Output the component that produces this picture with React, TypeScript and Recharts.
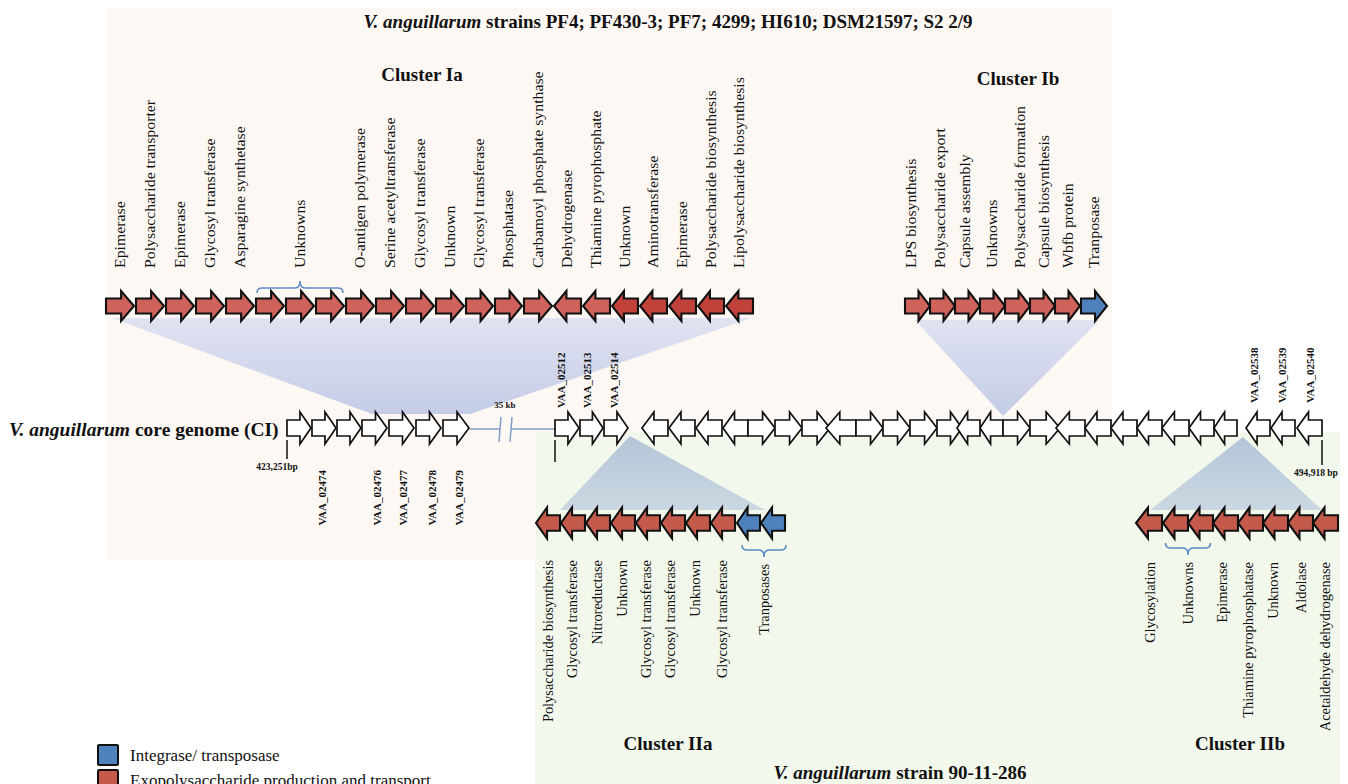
import React from 'react';
import { ScatterChart, Scatter, XAxis, YAxis, ReferenceArea, ReferenceLine } from 'recharts';

const W = 1348;
const H = 784;
const FONT = '"Liberation Serif", "Times New Roman", serif';

const FILLS: Record<string, string> = {
  exo: '#d0625c',
  exoDark: '#c0423b',
  exoB: '#c45a4b',
  int: '#4f81bd',
  core: '#ffffff',
};

// ---------- Cluster Ia (top) ----------
const IA_X1 = [106, 136, 166, 196, 226, 256, 286, 316, 346, 376, 406, 436, 466, 495, 524, 554, 583, 612, 640, 669, 698, 726];
const IA_X2 = [134, 164, 194, 224, 254, 284, 314, 344, 374, 404, 434, 464, 493, 522, 552, 581, 610, 638, 667, 696, 724, 753];
const IA_DIR = ['R', 'R', 'R', 'R', 'R', 'R', 'R', 'R', 'R', 'R', 'R', 'R', 'R', 'R', 'R', 'L', 'L', 'L', 'L', 'L', 'L', 'L'];
const IA_KIND = ['exo', 'exo', 'exo', 'exo', 'exo', 'exo', 'exo', 'exo', 'exo', 'exo', 'exo', 'exo', 'exo', 'exo', 'exo', 'exo', 'exo', 'exoDark', 'exoDark', 'exoDark', 'exoDark', 'exoDark'];
const IA_LABELS = ['Epimerase', 'Polysaccharide transporter', 'Epimerase', 'Glycosyl transferase', 'Asparagine synthetase', 'Unknowns', 'O-antigen polymerase', 'Serine acetyltransferase', 'Glycosyl transferase', 'Unknown', 'Glycosyl transferase', 'Phosphatase', 'Carbamoyl phosphate synthase', 'Dehydrogenase', 'Thiamine pyrophosphate', 'Unknown', 'Aminotransferase', 'Epimerase', 'Polysaccharide biosynthesis', 'Lipolysaccharide biosynthesis'];
const IA_LABEL_X = [120, 150, 180, 210, 240, 300, 360, 390, 420, 450, 479, 508, 538, 567, 596, 625, 653, 682, 711, 739];

// ---------- Cluster Ib (top) ----------
const IB_X1 = [905, 930, 955, 980, 1005, 1030, 1055, 1081];
const IB_X2 = [930, 955, 980, 1005, 1030, 1055, 1080, 1107];
const IB_DIR = ['R', 'R', 'R', 'R', 'R', 'R', 'R', 'R'];
const IB_KIND = ['exo', 'exo', 'exo', 'exo', 'exo', 'exo', 'exo', 'int'];
const IB_LABELS = ['LPS biosynthesis', 'Polysaccharide export', 'Capsule assembly', 'Unknowns', 'Polysaccharide formation', 'Capsule biosynthesis', 'Wbfb protein', 'Tranposase'];
const IB_LABEL_X = [911, 940, 965, 992, 1020, 1044, 1068, 1094];

// ---------- Cluster IIa (bottom) ----------
const IIA_X1 = [536, 561, 586, 611, 636, 661, 686, 711, 737, 761];
const IIA_X2 = [560, 585, 610, 635, 660, 685, 710, 735, 760, 785];
const IIA_KIND = ['exoB', 'exoB', 'exoB', 'exoB', 'exoB', 'exoB', 'exoB', 'exoB', 'int', 'int'];
const IIA_LABELS = ['Polysaccharide biosynthesis', 'Glycosyl transferase', 'Nitroreductase', 'Unknown', 'Glycosyl transferase', 'Glycosyl transferase', 'Unknown', 'Glycosyl transferase', 'Tranposases'];
const IIA_LABEL_X = [548, 572, 597, 622, 646, 670, 695, 722, 764];

// ---------- Cluster IIb (bottom) ----------
const IIB_X1 = [1136, 1163, 1188, 1213, 1238, 1263, 1288, 1313];
const IIB_X2 = [1162, 1188, 1213, 1238, 1263, 1288, 1313, 1338];
const IIB_LABELS = ['Glycosylation', 'Unknowns', 'Epimerase', 'Thiamine pyrophosphatase', 'Unknown', 'Aldolase', 'Acetaldehyde dehydrogenase'];
const IIB_LABEL_X = [1150, 1188, 1222, 1248, 1273, 1301, 1325];

// ---------- Core genome ----------
const CORE_X1 = [287, 312, 337, 362, 389, 416, 443, 555, 580, 604, 642, 669, 696, 723, 748, 775, 802, 826, 856, 883, 910, 937, 957, 980, 1003, 1030, 1056, 1085, 1111, 1137, 1162, 1189, 1214, 1246, 1271, 1297];
const CORE_X2 = [311, 336, 361, 387, 414, 441, 469, 579, 603, 628, 668, 695, 722, 748, 775, 802, 830, 856, 883, 910, 937, 962, 980, 1003, 1030, 1060, 1085, 1111, 1137, 1162, 1189, 1214, 1237, 1270, 1295, 1322];
const CORE_DIR = ['R', 'R', 'R', 'R', 'R', 'R', 'R', 'R', 'R', 'R', 'L', 'L', 'L', 'L', 'R', 'R', 'R', 'L', 'R', 'R', 'R', 'R', 'L', 'L', 'R', 'R', 'L', 'L', 'L', 'L', 'L', 'L', 'L', 'L', 'L', 'L'];
const CORE_BELOW_LABELS = ['VAA_02474', 'VAA_02476', 'VAA_02477', 'VAA_02478', 'VAA_02479'];
const CORE_BELOW_X = [322, 377, 403, 432, 459];
const CORE_ABOVE_LABELS = ['VAA_02512', 'VAA_02513', 'VAA_02514', 'VAA_02538', 'VAA_02539', 'VAA_02540'];
const CORE_ABOVE_X = [561, 587, 614, 1254, 1282, 1310];
const CORE_ABOVE_Y = [408, 408, 408, 403, 403, 403];

// rows (y of the arrow centre)
const ROW_TOP_Y = 306;
const ROW_CORE_Y = 428;
const ROW_BOTTOM_Y = 523;

// shading fans: anchor + polygon corners
const FANS = [
  { x: 421, y: 414, pts: [[112, 318], [752, 318], [470, 414], [372, 414]], c1: '#e0e3f1', c2: '#c4cce7' },
  { x: 1003, y: 416, pts: [[915, 320], [1100, 320], [1003, 416]], c1: '#dfe3f1', c2: '#c3cbe6' },
  { x: 630, y: 436, pts: [[630, 436], [765, 510], [560, 510]], c1: '#b3c5d7', c2: '#cbd8e2' },
  { x: 1243, y: 437, pts: [[1243, 437], [1322, 510], [1150, 510]], c1: '#b3c5d7', c2: '#cbd8e2' },
];

const BRACKETS = [
  { x: 300, y: 288, x1: 257, x2: 343, up: true },
  { x: 764, y: 550, x1: 742, x2: 786, up: false },
  { x: 1188, y: 548, x1: 1166, x2: 1211, up: false },
];

const TEXTS = [
  { x: 668, y: 28, size: 19, bold: true, anchor: 'middle', parts: [{ t: 'V. anguillarum', i: true }, { t: ' strains PF4; PF430-3; PF7; 4299; HI610; DSM21597; S2 2/9' }] },
  { x: 422, y: 81, size: 19, bold: true, anchor: 'middle', parts: [{ t: 'Cluster Ia' }] },
  { x: 1018, y: 85, size: 19, bold: true, anchor: 'middle', parts: [{ t: 'Cluster Ib' }] },
  { x: 668, y: 750, size: 19, bold: true, anchor: 'middle', parts: [{ t: 'Cluster IIa' }] },
  { x: 1240, y: 750, size: 19, bold: true, anchor: 'middle', parts: [{ t: 'Cluster IIb' }] },
  { x: 900, y: 779, size: 19, bold: true, anchor: 'middle', parts: [{ t: 'V. anguillarum', i: true }, { t: ' strain 90-11-286' }] },
  { x: 9, y: 436, size: 19.5, bold: true, anchor: 'start', parts: [{ t: 'V. anguillarum', i: true }, { t: ' core genome (CI)' }] },
  { x: 505, y: 408, size: 9, bold: true, anchor: 'middle', parts: [{ t: '35 kb' }] },
  { x: 277, y: 470, size: 9.5, bold: true, anchor: 'middle', parts: [{ t: '423,251bp' }] },
  { x: 1316, y: 476, size: 9.5, bold: true, anchor: 'middle', parts: [{ t: '494,918 bp' }] },
];

const LEGEND = [
  { x: 108, y: 755, kind: 'int', label: 'Integrase/ transposase' },
  { x: 108, y: 780, kind: 'exoB', label: 'Exopolysaccharide production and transport' },
];

// ---------- build point tables ----------
type Gene = { x: number; y: number; x1: number; x2: number; h: number; dir: string; fill: string; core: boolean };

const genes = (x1s: number[], x2s: number[], dirs: string[], kinds: string[], y: number, h: number, core: boolean): Gene[] =>
  x1s.map((a, i) => ({ x: (a + x2s[i]) / 2, y, x1: a, x2: x2s[i], h, dir: dirs[i], fill: FILLS[kinds[i]], core }));

const allLeft = (n: number) => Array.from({ length: n }, () => 'L');
const fillKind = (n: number, k: string) => Array.from({ length: n }, () => k);

const GENES: Gene[] = [
  ...genes(IA_X1, IA_X2, IA_DIR, IA_KIND, ROW_TOP_Y, 30, false),
  ...genes(IB_X1, IB_X2, IB_DIR, IB_KIND, ROW_TOP_Y, 30, false),
  ...genes(IIA_X1, IIA_X2, allLeft(IIA_X1.length), IIA_KIND, ROW_BOTTOM_Y, 31, false),
  ...genes(IIB_X1, IIB_X2, allLeft(IIB_X1.length), fillKind(IIB_X1.length, 'exoB'), ROW_BOTTOM_Y, 31, false),
  ...genes(CORE_X1, CORE_X2, CORE_DIR, fillKind(CORE_X1.length, 'core'), ROW_CORE_Y, 32, true),
];

type VLabel = { x: number; y: number; text: string; anchor: string; size: number; bold: boolean; stretch: number };
const LABELS: VLabel[] = [
  ...IA_LABELS.map((t, i) => ({ x: IA_LABEL_X[i], y: 268, text: t, anchor: 'start', size: 14, bold: false, stretch: 1.13 })),
  ...IB_LABELS.map((t, i) => ({ x: IB_LABEL_X[i], y: 268, text: t, anchor: 'start', size: 14, bold: false, stretch: 1.13 })),
  ...IIA_LABELS.map((t, i) => ({ x: IIA_LABEL_X[i], y: i === 8 ? 564 : 560, text: t, anchor: 'end', size: 14, bold: false, stretch: 1.03 })),
  ...IIB_LABELS.map((t, i) => ({ x: IIB_LABEL_X[i], y: 562, text: t, anchor: 'end', size: 14, bold: false, stretch: 1.03 })),
  ...CORE_BELOW_LABELS.map((t, i) => ({ x: CORE_BELOW_X[i], y: 470, text: t, anchor: 'end', size: 11, bold: true, stretch: 1 })),
  ...CORE_ABOVE_LABELS.map((t, i) => ({ x: CORE_ABOVE_X[i], y: CORE_ABOVE_Y[i], text: t, anchor: 'start', size: 11, bold: true, stretch: 1 })),
];

// ---------- shapes ----------
const ArrowShape = (props: any) => {
  const { cx, cy, payload } = props;
  if (cx == null || cy == null) return null;
  const p = payload as Gene;
  const w = p.x2 - p.x1;
  const h = p.h;
  const a = cx - w / 2;
  const b = cx + w / 2;
  const hl = w * 0.46;
  const bh = h * 0.25;
  const pts =
    p.dir === 'R'
      ? [[a, cy - bh], [b - hl, cy - bh], [b - hl, cy - h / 2], [b, cy], [b - hl, cy + h / 2], [b - hl, cy + bh], [a, cy + bh]]
      : [[b, cy - bh], [a + hl, cy - bh], [a + hl, cy - h / 2], [a, cy], [a + hl, cy + h / 2], [a + hl, cy + bh], [b, cy + bh]];
  return (
    <polygon
      points={pts.map((q) => q.join(',')).join(' ')}
      fill={p.fill}
      stroke="#111"
      strokeWidth={p.core ? 1.7 : 2.1}
      strokeLinejoin="miter"
    />
  );
};

const FanShape = (props: any) => {
  const { cx, cy, payload, index } = props;
  if (cx == null || cy == null) return null;
  const dx = cx - payload.x;
  const dy = cy - payload.y;
  const id = `fan-grad-${index}`;
  return (
    <g>
      <defs>
        <linearGradient id={id} x1="0" y1="0" x2="0" y2="1">
          <stop offset="0%" stopColor={payload.c1} />
          <stop offset="100%" stopColor={payload.c2} />
        </linearGradient>
      </defs>
      <polygon points={payload.pts.map((q: number[]) => `${q[0] + dx},${q[1] + dy}`).join(' ')} fill={`url(#${id})`} stroke="none" />
    </g>
  );
};

const BracketShape = (props: any) => {
  const { cx, cy, payload } = props;
  if (cx == null || cy == null) return null;
  const half = (payload.x2 - payload.x1) / 2;
  const a = cx - half;
  const b = cx + half;
  const s = payload.up ? 1 : -1;
  const r = 5;
  const d = `M${a},${cy + s * r} Q${a},${cy} ${a + r},${cy} L${cx - r},${cy} Q${cx},${cy} ${cx},${cy - s * 7} Q${cx},${cy} ${cx + r},${cy} L${b - r},${cy} Q${b},${cy} ${b},${cy + s * r}`;
  return <path d={d} fill="none" stroke="#5b8bc5" strokeWidth={1.5} />;
};

const VLabelShape = (props: any) => {
  const { cx, cy, payload } = props;
  if (cx == null || cy == null) return null;
  const p = payload as VLabel;
  return (
    <text
      x={0}
      y={0}
      dy="0.35em"
      transform={`translate(${cx} ${cy}) rotate(-90) scale(${p.stretch} 1)`}
      textAnchor={p.anchor as any}
      fontFamily={FONT}
      fontSize={p.size}
      fontWeight={p.bold ? 700 : 400}
      fill="#111"
    >
      {p.text}
    </text>
  );
};

const TextShape = (props: any) => {
  const { cx, cy, payload } = props;
  if (cx == null || cy == null) return null;
  return (
    <text x={cx} y={cy} textAnchor={payload.anchor} fontFamily={FONT} fontSize={payload.size} fontWeight={payload.bold ? 700 : 400} fill="#111">
      {payload.parts.map((pt: any, i: number) => (
        <tspan key={i} fontStyle={pt.i ? 'italic' : 'normal'}>
          {pt.t}
        </tspan>
      ))}
    </text>
  );
};

const LegendShape = (props: any) => {
  const { cx, cy, payload } = props;
  if (cx == null || cy == null) return null;
  return (
    <g>
      <rect x={cx - 10} y={cy - 10} width={20} height={20} fill={FILLS[payload.kind]} stroke="#111" strokeWidth={2} rx={1} />
      <text x={cx + 22} y={cy + 6} fontFamily={FONT} fontSize={17} fill="#111">
        {payload.label}
      </text>
    </g>
  );
};

const LINE = '#7f9fc9';

export default function App() {
  return (
    <div style={{ position: 'absolute', left: 0, top: 0, width: W, height: H, background: '#ffffff' }}>
      <ScatterChart width={W} height={H} margin={{ top: 0, right: 0, bottom: 0, left: 0 }}>
        <XAxis type="number" dataKey="x" domain={[0, W]} allowDataOverflow hide />
        <YAxis type="number" dataKey="y" domain={[0, H]} allowDataOverflow reversed hide />
        <ReferenceArea x1={107} x2={1112} y1={8} y2={560} fill="#fdf8f3" fillOpacity={1} stroke="none" />
        <ReferenceArea x1={535} x2={1340} y1={432} y2={784} fill="#f3f8ec" fillOpacity={1} stroke="none" />
        <Scatter data={FANS} shape={FanShape} isAnimationActive={false} />
        <ReferenceLine segment={[{ x: 470, y: 429 }, { x: 500, y: 429 }]} stroke={LINE} strokeWidth={1.5} />
        <ReferenceLine segment={[{ x: 511, y: 429 }, { x: 555, y: 429 }]} stroke={LINE} strokeWidth={1.5} />
        <ReferenceLine segment={[{ x: 501, y: 417 }, { x: 499, y: 442 }]} stroke={LINE} strokeWidth={1.5} />
        <ReferenceLine segment={[{ x: 512, y: 417 }, { x: 510, y: 442 }]} stroke={LINE} strokeWidth={1.5} />
        <ReferenceLine segment={[{ x: 287, y: 440 }, { x: 287, y: 459 }]} stroke="#111" strokeWidth={1.5} />
        <ReferenceLine segment={[{ x: 555, y: 440 }, { x: 555, y: 462 }]} stroke="#111" strokeWidth={1.5} />
        <ReferenceLine segment={[{ x: 1322, y: 440 }, { x: 1322, y: 465 }]} stroke="#111" strokeWidth={1.5} />
        <Scatter data={GENES} shape={ArrowShape} isAnimationActive={false} />
        <Scatter data={BRACKETS} shape={BracketShape} isAnimationActive={false} />
        <Scatter data={LABELS} shape={VLabelShape} isAnimationActive={false} />
        <Scatter data={TEXTS} shape={TextShape} isAnimationActive={false} />
        <Scatter data={LEGEND} shape={LegendShape} isAnimationActive={false} />
      </ScatterChart>
    </div>
  );
}
